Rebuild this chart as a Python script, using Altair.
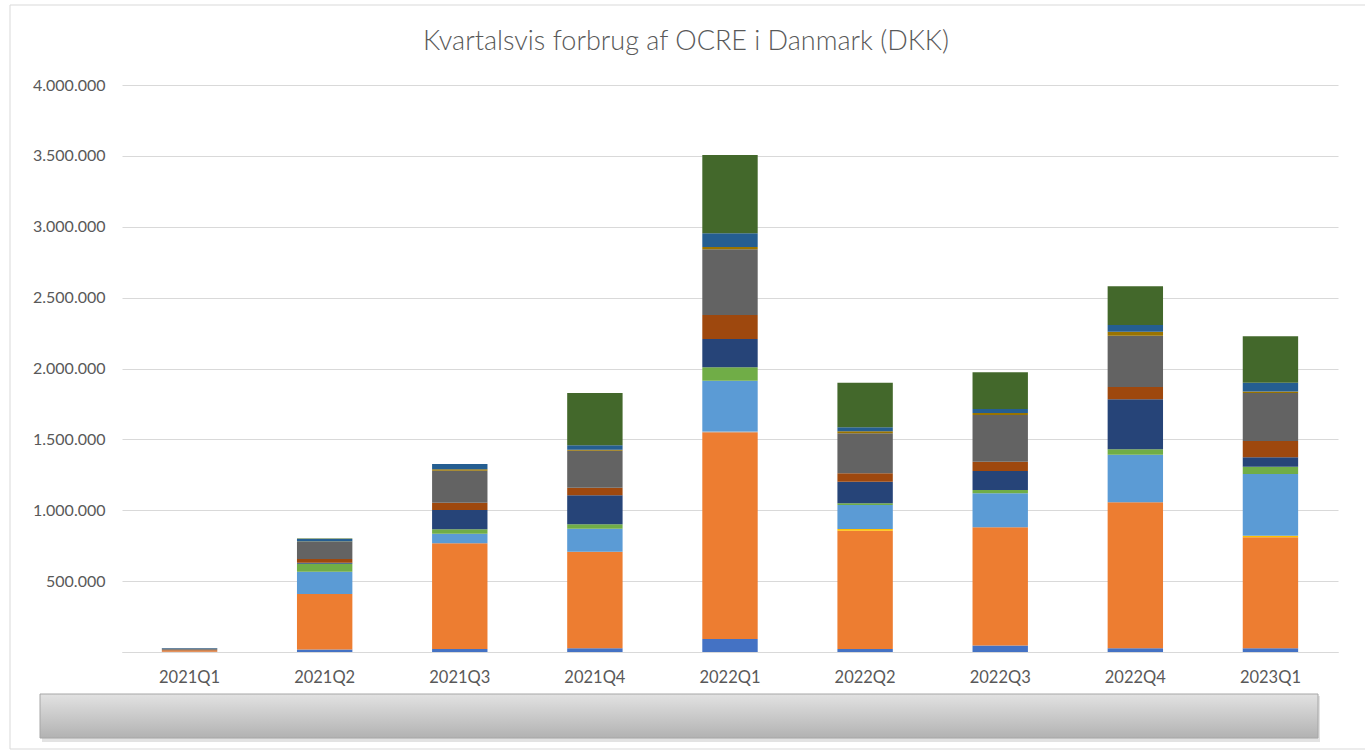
import altair as alt
import pandas as pd

quarters = ["2021Q1", "2021Q2", "2021Q3", "2021Q4", "2022Q1", "2022Q2", "2022Q3", "2022Q4", "2023Q1"]

series_names = ["Serie 1", "Serie 2", "Serie 3", "Serie 4", "Serie 5", "Serie 6",
                "Serie 7", "Serie 8", "Serie 9", "Serie 10", "Serie 11", "Serie 12"]
series_colors = ["#4472C4", "#ED7D31", "#A5A5A5", "#FFC000", "#5B9BD5", "#70AD47",
                 "#264478", "#9E480E", "#636363", "#997300", "#255E91", "#43682B"]

s1 = [2000, 18000, 21000, 26000, 92000, 22000, 45000, 26000, 26000]
s2 = [8000, 391000, 746000, 682000, 1458000, 834000, 835000, 1030000, 783000]
s3 = [0, 0, 0, 0, 5000, 0, 0, 0, 0]
s4 = [0, 0, 0, 0, 0, 12000, 0, 0, 11000]
s5 = [0, 157000, 68000, 162000, 359000, 169000, 240000, 336000, 436000]
s6 = [0, 57000, 31000, 31000, 94000, 12000, 23000, 38000, 50000]
s7 = [0, 7000, 136000, 204000, 200000, 152000, 134000, 353000, 68000]
s8 = [6000, 26000, 51000, 54000, 169000, 60000, 66000, 86000, 115000]
s9 = [8000, 120000, 226000, 261000, 464000, 282000, 329000, 362000, 339000]
s10 = [0, 3000, 10000, 7000, 16000, 14000, 14000, 29000, 9000]
s11 = [5000, 18000, 37000, 31000, 97000, 28000, 28000, 47000, 62000]
s12 = [0, 3000, 0, 369000, 552000, 315000, 259000, 273000, 328000]

title_text = "Kvartalsvis forbrug af OCRE i Danmark (DKK)"

all_series = [s1, s2, s3, s4, s5, s6, s7, s8, s9, s10, s11, s12]

rows = []
for i, (name, vals) in enumerate(zip(series_names, all_series)):
    for q, v in zip(quarters, vals):
        rows.append({"Kvartal": q, "Serie": name, "Beløb": v, "orden": i})
df = pd.DataFrame(rows)

W, H = 1216, 567
FONT = "Lato"

bars = alt.Chart(df).mark_bar().encode(
    x=alt.X("Kvartal:N", sort=quarters,
            scale=alt.Scale(paddingInner=0.59, paddingOuter=0.295),
            axis=alt.Axis(title=None, labelAngle=0, ticks=False, domainColor="#d9d9d9",
                          labelPadding=17, labelFontSize=16.5, labelColor="#595959",
                          labelFont=FONT)),
    y=alt.Y("Beløb:Q", stack="zero",
            scale=alt.Scale(domain=[0, 4000000], nice=False),
            axis=alt.Axis(title=None, values=[0, 500000, 1000000, 1500000, 2000000,
                                              2500000, 3000000, 3500000, 4000000],
                          labelExpr="datum.value == 0 ? '' : replace(format(datum.value, ','), regexp(',', 'g'), '.')",
                          domain=False, ticks=False, gridColor="#d9d9d9",
                          labelPadding=17, labelFontSize=16, labelColor="#595959",
                          labelFont=FONT)),
    color=alt.Color("Serie:N", scale=alt.Scale(domain=series_names, range=series_colors),
                    legend=None),
    order=alt.Order("orden:Q", sort="ascending"),
    tooltip=["Kvartal", "Serie", "Beløb"],
)

one = pd.DataFrame({"t": [title_text]})

border = alt.Chart(one).mark_rect(fill=None, stroke="#d9d9d9", strokeWidth=1).encode(
    x=alt.value(-112), x2=alt.value(W + 120),
    y=alt.value(-80), y2=alt.value(H + 97),
)

shadow = alt.Chart(one).mark_rect(fill="#d0d0d0", opacity=0.6).encode(
    x=alt.value(-80), x2=alt.value(1198),
    y=alt.value(H + 44), y2=alt.value(H + 90),
)

box = alt.Chart(one).mark_rect(
    fill=alt.Gradient(gradient="linear",
                      stops=[alt.GradientStop(color="#e2e2e2", offset=0),
                             alt.GradientStop(color="#b2b2b2", offset=1)],
                      x1=0, x2=0, y1=0, y2=1),
    stroke="#a6a6a6", strokeWidth=1,
).encode(
    x=alt.value(-82), x2=alt.value(1196),
    y=alt.value(H + 42), y2=alt.value(H + 86),
)

title = alt.Chart(one).mark_text(
    font=FONT, fontSize=27, fontWeight=300, color="#595959", align="center", baseline="middle",
).encode(
    text="t:N",
    x=alt.value(686 - 122), y=alt.value(42 - 85),
)

chart = alt.layer(border, shadow, box, bars, title).properties(
    width=W, height=H,
    autosize=alt.AutoSizeParams(type="none"),
    padding={"left": 122, "top": 85, "right": 27, "bottom": 98},
    background="white",
).configure_view(stroke=None, strokeWidth=0)

chart.save("out.html", embed_options={"renderer": "svg", "actions": False})
